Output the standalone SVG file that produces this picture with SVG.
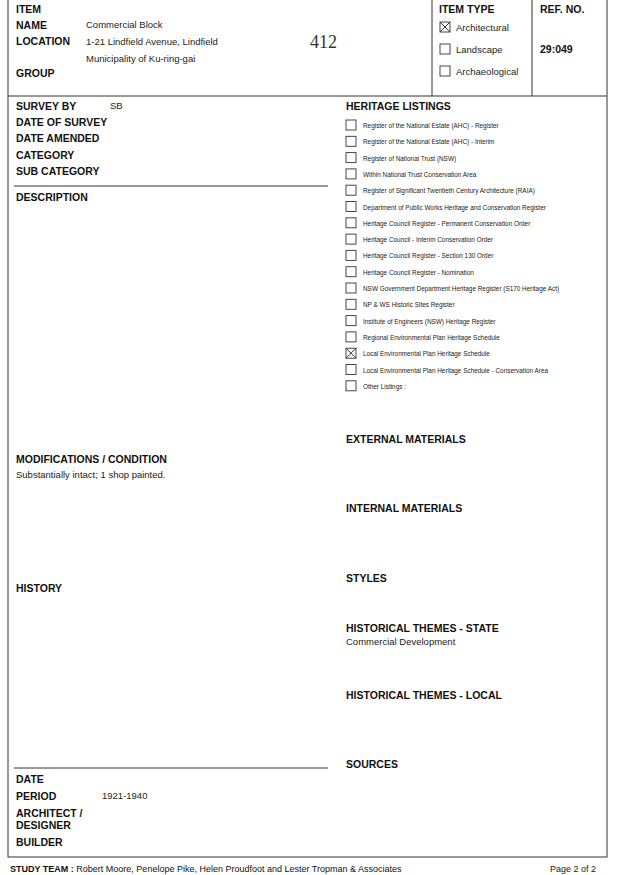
<svg xmlns="http://www.w3.org/2000/svg" width="637" height="875" viewBox="0 0 637 875">
<style>
.h{font-family:"Liberation Sans",Arial,sans-serif;font-weight:bold;font-size:10.5px;fill:#111}
.t{font-family:"Liberation Sans",Arial,sans-serif;font-size:9.5px;fill:#222}
.s{font-family:"Liberation Sans Narrow","Liberation Sans",Arial,sans-serif;font-size:6.4px;fill:#222}
.ln{stroke:#333;stroke-width:1;fill:none}
.cb{fill:#fff;stroke:#333;stroke-width:0.9}
</style>
<rect width="637" height="875" fill="#fff"/>
<g id="frame">
<rect class="ln" x="8" y="-2" width="599" height="859"/>
<line class="ln" x1="8" y1="96" x2="607" y2="96"/>
<line class="ln" x1="432" y1="0" x2="432" y2="96"/>
<line class="ln" x1="532" y1="0" x2="532" y2="96"/>
<line class="ln" x1="14" y1="186" x2="328" y2="186"/>
<line class="ln" x1="14" y1="768" x2="328" y2="768"/>
</g>
<g id="header">
<text class="h" x="16" y="13">ITEM</text>
<text class="h" x="16" y="29">NAME</text>
<text class="t" x="86" y="28">Commercial Block</text>
<text class="h" x="16" y="45">LOCATION</text>
<text class="t" x="86" y="45">1-21 Lindfield Avenue, Lindfield</text>
<text class="t" x="86" y="62">Municipality of Ku-ring-gai</text>
<text x="310" y="48" style="font-family:'Liberation Serif',serif;font-size:18px;fill:#333">412</text>
<text class="h" x="16" y="77">GROUP</text>
<text class="h" x="439" y="13">ITEM TYPE</text>
<rect class="cb" x="440" y="22" width="10" height="10"/>
<path class="ln" d="M440 22L450 32M450 22L440 32"/>
<text class="t" x="456" y="31">Architectural</text>
<rect class="cb" x="440" y="44" width="10" height="10"/>
<text class="t" x="456" y="53">Landscape</text>
<rect class="cb" x="440" y="66" width="10" height="10"/>
<text class="t" x="456" y="75">Archaeological</text>
<text class="h" x="540" y="13">REF. NO.</text>
<text class="h" x="540" y="53">29:049</text>
</g>
<g id="left">
<text class="h" x="16" y="110">SURVEY BY</text>
<text class="t" x="110" y="109">SB</text>
<text class="h" x="16" y="126">DATE OF SURVEY</text>
<text class="h" x="16" y="142">DATE AMENDED</text>
<text class="h" x="16" y="159">CATEGORY</text>
<text class="h" x="16" y="175">SUB CATEGORY</text>
<text class="h" x="16" y="201">DESCRIPTION</text>
<text class="h" x="16" y="463">MODIFICATIONS / CONDITION</text>
<text class="t" x="16" y="478">Substantially intact; 1 shop painted.</text>
<text class="h" x="16" y="592">HISTORY</text>
<text class="h" x="16" y="783">DATE</text>
<text class="h" x="16" y="800">PERIOD</text>
<text class="t" x="102" y="799">1921-1940</text>
<text class="h" x="16" y="817">ARCHITECT /</text>
<text class="h" x="16" y="829">DESIGNER</text>
<text class="h" x="16" y="846">BUILDER</text>
</g>
<g id="listings">
<text class="h" x="346" y="110">HERITAGE LISTINGS</text>
<g>
<rect class="cb" x="346" y="120" width="10" height="10"/><text class="s" x="363" y="128">Register of the National Estate (AHC) - Register</text>
<rect class="cb" x="346" y="136.3" width="10" height="10"/><text class="s" x="363" y="144.3">Register of the National Estate (AHC) - Interim</text>
<rect class="cb" x="346" y="152.6" width="10" height="10"/><text class="s" x="363" y="160.6">Register of National Trust (NSW)</text>
<rect class="cb" x="346" y="168.9" width="10" height="10"/><text class="s" x="363" y="176.9">Within National Trust Conservation Area</text>
<rect class="cb" x="346" y="185.2" width="10" height="10"/><text class="s" x="363" y="193.2">Register of Significant Twentieth Century Architecture (RAIA)</text>
<rect class="cb" x="346" y="201.5" width="10" height="10"/><text class="s" x="363" y="209.5">Department of Public Works Heritage and Conservation Register</text>
<rect class="cb" x="346" y="217.8" width="10" height="10"/><text class="s" x="363" y="225.8">Heritage Council Register - Permanent Conservation Order</text>
<rect class="cb" x="346" y="234.1" width="10" height="10"/><text class="s" x="363" y="242.1">Heritage Council - Interim Conservation Order</text>
<rect class="cb" x="346" y="250.4" width="10" height="10"/><text class="s" x="363" y="258.4">Heritage Council Register - Section 130 Order</text>
<rect class="cb" x="346" y="266.7" width="10" height="10"/><text class="s" x="363" y="274.7">Heritage Council Register - Nomination</text>
<rect class="cb" x="346" y="283" width="10" height="10"/><text class="s" x="363" y="291">NSW Government Department Heritage Register (S170 Heritage Act)</text>
<rect class="cb" x="346" y="299.3" width="10" height="10"/><text class="s" x="363" y="307.3">NP &amp; WS Historic Sites Register</text>
<rect class="cb" x="346" y="315.6" width="10" height="10"/><text class="s" x="363" y="323.6">Institute of Engineers (NSW) Heritage Register</text>
<rect class="cb" x="346" y="331.9" width="10" height="10"/><text class="s" x="363" y="339.9">Regional Environmental Plan Heritage Schedule</text>
<rect class="cb" x="346" y="348.2" width="10" height="10"/><path class="ln" d="M346 348.2L356 358.2M356 348.2L346 358.2"/><text class="s" x="363" y="356.2">Local Environmental Plan Heritage Schedule</text>
<rect class="cb" x="346" y="364.5" width="10" height="10"/><text class="s" x="363" y="372.5">Local Environmental Plan Heritage Schedule - Conservation Area</text>
<rect class="cb" x="346" y="380.8" width="10" height="10"/><text class="s" x="363" y="388.8">Other Listings :</text>
</g>
<text class="h" x="346" y="443">EXTERNAL MATERIALS</text>
<text class="h" x="346" y="512">INTERNAL MATERIALS</text>
<text class="h" x="346" y="582">STYLES</text>
<text class="h" x="346" y="632">HISTORICAL THEMES - STATE</text>
<text class="t" x="346" y="645">Commercial Development</text>
<text class="h" x="346" y="699">HISTORICAL THEMES - LOCAL</text>
<text class="h" x="346" y="768">SOURCES</text>
</g>
<g id="footer">
<text class="h" x="10" y="872" style="font-size:9px">STUDY TEAM :   <tspan font-weight="normal">Robert Moore, Penelope Pike, Helen Proudfoot and Lester Tropman &amp; Associates</tspan></text>
<text class="t" x="550" y="872" style="font-size:9px">Page 2 of 2</text>
</g>
</svg>
